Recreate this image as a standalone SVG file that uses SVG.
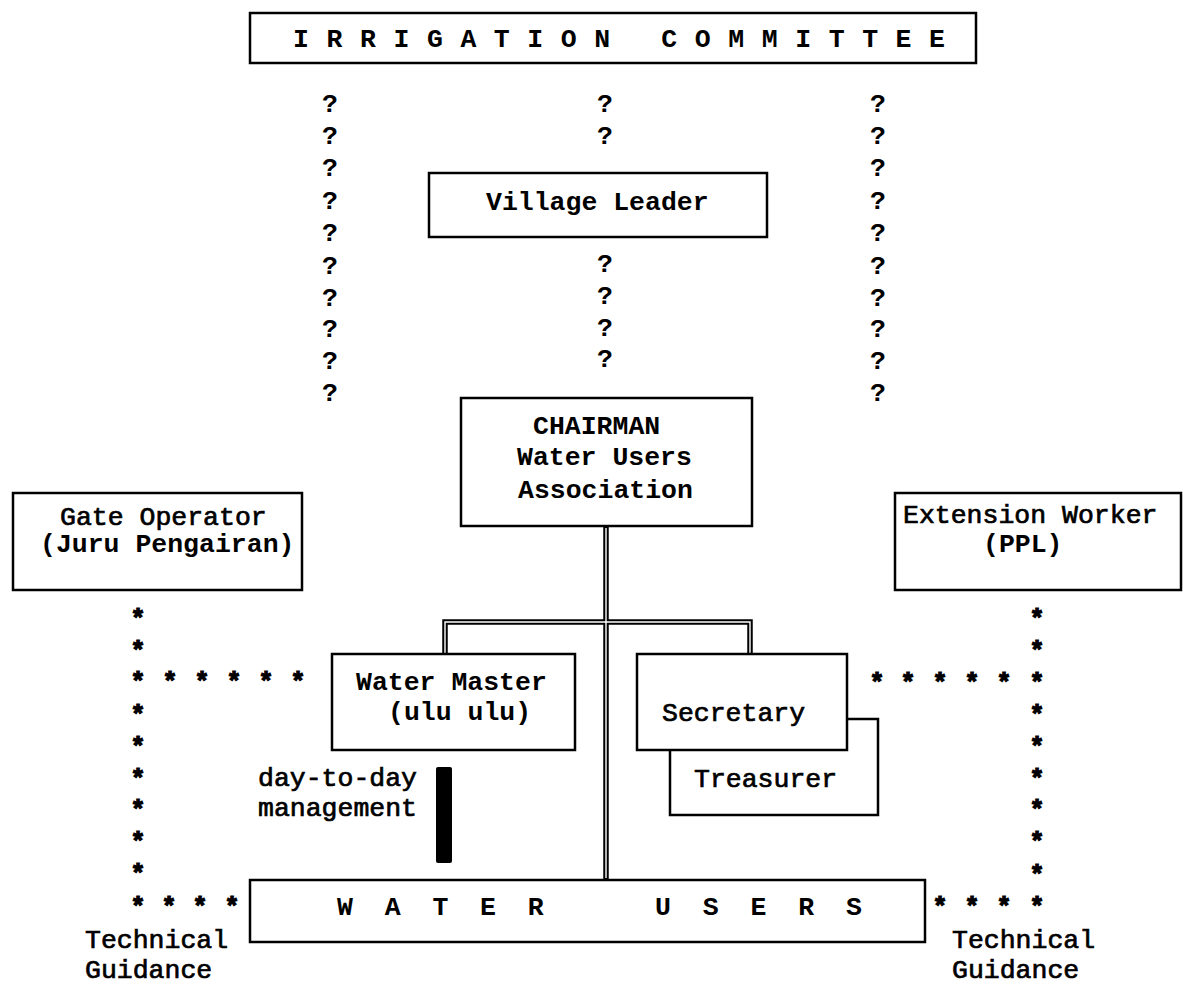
<svg xmlns="http://www.w3.org/2000/svg" width="1183" height="986" viewBox="0 0 1183 986">
  <style>
    .box { fill: #fff; stroke: #000; stroke-width: 2.5; }
    .t { font-family: "Liberation Mono", "DejaVu Sans Mono", monospace; font-size: 26.5px; fill: #000; }
    .b { font-weight: bold; }
    .m { stroke: #000; stroke-width: 0.7; }
    .q { font-family: "Liberation Mono", "DejaVu Sans Mono", monospace; font-size: 26.5px; font-weight: bold; text-anchor: middle; fill: #000; }
    .s { font-family: "Liberation Mono", "DejaVu Sans Mono", monospace; font-size: 25px; font-weight: bold; text-anchor: middle; fill: #000; stroke: #000; stroke-width: 1.2; }
    .dbl-out { fill: none; stroke: #000; stroke-width: 5.5; }
    .dbl-in { fill: none; stroke: #fff; stroke-width: 1.4; }
  </style>
  <rect width="1183" height="986" fill="#fff"/>

  <!-- links: double lines of authority, ? and * dotted lines -->
  <g id="connectors">
    <path class="dbl-out" d="M606,526 V880"/>
    <path class="dbl-out" d="M445,655 V622 H750 V655"/>
    <path class="dbl-in" d="M606,528 V878"/>
    <path class="dbl-in" d="M445,653 V622 H750 V653"/>

    <!-- question-mark lines -->
    <g class="q">
      <text x="330" y="112">?</text><text x="330" y="144">?</text><text x="330" y="176">?</text>
      <text x="330" y="209">?</text><text x="330" y="241">?</text><text x="330" y="274">?</text>
      <text x="330" y="306">?</text><text x="330" y="337">?</text><text x="330" y="369">?</text>
      <text x="330" y="401">?</text>
      <text x="605" y="112">?</text><text x="605" y="144">?</text>
      <text x="605" y="272">?</text><text x="605" y="304">?</text><text x="605" y="336">?</text>
      <text x="605" y="367">?</text>
      <text x="878" y="112">?</text><text x="878" y="144">?</text><text x="878" y="176">?</text>
      <text x="878" y="209">?</text><text x="878" y="241">?</text><text x="878" y="274">?</text>
      <text x="878" y="306">?</text><text x="878" y="337">?</text><text x="878" y="369">?</text>
      <text x="878" y="401">?</text>
    </g>

    <!-- asterisk lines (technical guidance) -->
    <g class="s">
      <text x="138" y="627">*</text><text x="138" y="659">*</text><text x="138" y="690">*</text>
      <text x="138" y="723">*</text><text x="138" y="755">*</text><text x="138" y="787">*</text>
      <text x="138" y="818">*</text><text x="138" y="850">*</text><text x="138" y="882">*</text>
      <text x="138" y="915">*</text>
      <text x="170" y="690">*</text><text x="202" y="690">*</text><text x="234" y="690">*</text>
      <text x="266" y="690">*</text><text x="298" y="690">*</text>
      <text x="169" y="915">*</text><text x="200" y="915">*</text><text x="232" y="915">*</text>

      <text x="1037" y="627">*</text><text x="1037" y="659">*</text><text x="1037" y="691">*</text>
      <text x="1037" y="723">*</text><text x="1037" y="755">*</text><text x="1037" y="787">*</text>
      <text x="1037" y="818">*</text><text x="1037" y="850">*</text><text x="1037" y="883">*</text>
      <text x="1037" y="915">*</text>
      <text x="877" y="691">*</text><text x="908" y="691">*</text><text x="940" y="691">*</text>
      <text x="972" y="691">*</text><text x="1004" y="691">*</text>
      <text x="940" y="915">*</text><text x="972" y="915">*</text><text x="1004" y="915">*</text>
    </g>
  </g>

  <g id="irrigation-committee">
    <rect class="box" x="250" y="13" width="726" height="50"/>
    <text class="t b" x="293" y="47" textLength="652" lengthAdjust="spacing" xml:space="preserve">I R R I G A T I O N   C O M M I T T E E</text>
  </g>

  <g id="village-leader">
    <rect class="box" x="429" y="173" width="338" height="64"/>
    <text class="t b" x="486" y="210">Village Leader</text>
  </g>

  <g id="chairman">
    <rect class="box" x="461" y="398" width="291" height="128"/>
    <text class="t b" x="533" y="434">CHAIRMAN</text>
    <text class="t b" x="517" y="465">Water Users</text>
    <text class="t b" x="518" y="498">Association</text>
  </g>

  <g id="gate-operator">
    <rect class="box" x="13" y="493" width="289" height="97"/>
    <text class="t m" x="60" y="525">Gate Operator</text>
    <text class="t b" x="40" y="552">(Juru Pengairan)</text>
  </g>

  <g id="extension-worker">
    <rect class="box" x="895" y="493" width="286" height="97"/>
    <text class="t m" x="903" y="523">Extension Worker</text>
    <text class="t b" x="983" y="552">(PPL)</text>
  </g>

  <g id="water-master">
    <rect class="box" x="332" y="654" width="243" height="96"/>
    <text class="t b" x="356" y="690">Water Master</text>
    <text class="t b" x="388" y="720">(ulu ulu)</text>
  </g>

  <g id="treasurer">
    <path class="box" d="M847,719 H878 V815 H670 V750"/>
    <text class="t m" x="694" y="787">Treasurer</text>
  </g>

  <g id="secretary">
    <rect class="box" x="637" y="654" width="210" height="96"/>
    <text class="t m" x="662" y="721">Secretary</text>
  </g>

  <g id="day-to-day">
    <text class="t m" x="258" y="786">day-to-day</text>
    <text class="t m" x="258" y="816">management</text>
    <rect x="436" y="767" width="16" height="96" rx="2" fill="#000"/>
  </g>

  <g id="water-users">
    <rect class="box" x="250" y="880" width="675" height="62"/>
    <text class="t b" x="337" y="915" xml:space="preserve">W  A  T  E  R       U  S  E  R  S</text>
  </g>

  <g id="technical-guidance">
    <text class="t m" x="85" y="948">Technical</text>
    <text class="t m" x="85" y="978">Guidance</text>
    <text class="t m" x="952" y="948">Technical</text>
    <text class="t m" x="952" y="978">Guidance</text>
  </g>
</svg>
